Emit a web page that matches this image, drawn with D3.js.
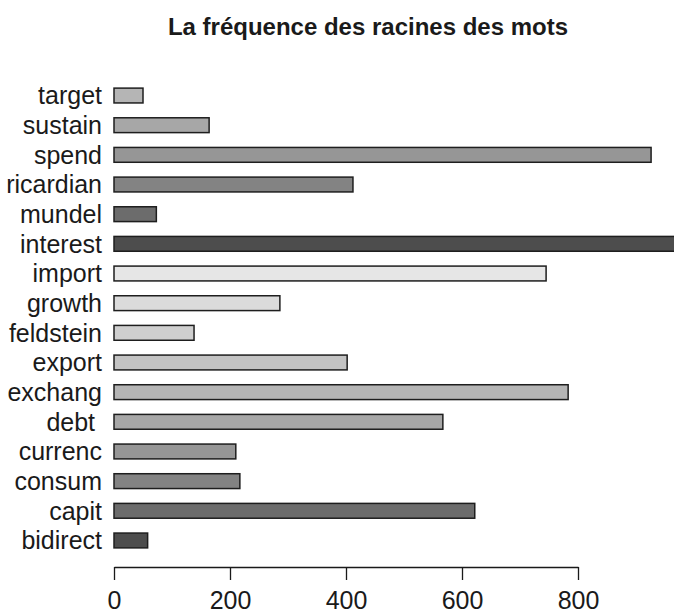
<!DOCTYPE html>
<html>
<head>
<meta charset="utf-8">
<script src="https://cdn.jsdelivr.net/npm/d3@7"></script>
<style>
  body { margin: 0; background: #fff; }
  svg { display: block; font-family: 'Liberation Sans', Arial, sans-serif; }
</style>
</head>
<body>
<div id="chart"></div>
<script>
// word stems, bottom to top (R barplot order)
const stems = ['bidirect', 'capit', 'consum', 'currenc', 'debt ', 'exchang', 'export', 'feldstein',
  'growth', 'import', 'interest', 'mundel', 'ricardian', 'spend', 'sustain', 'target'];
const counts = [58, 622, 217, 210, 567, 783, 402, 138, 286, 745, 1010, 73, 412, 926, 164, 50];
const xTicks = [0, 200, 400, 600, 800];
const titleText = 'La fréquence des racines des mots';

// gray.colors(10) cycle, like R
const grays = ['#4d4d4d', '#6c6c6c', '#838383', '#969696', '#a7a7a7',
  '#b5b5b5', '#c3c3c3', '#cfcfcf', '#dbdbdb', '#e6e6e6'];

const size = { width: 674, height: 614 };

const data = stems.map((s, i) => ({ stem: s, n: counts[i], fill: grays[i % grays.length] }));

const svg = d3.select('#chart').append('svg')
  .attr('width', size.width)
  .attr('height', size.height);

const x = d3.scaleLinear()
  .domain([0, 800])
  .range([114, 578]);

// top of chart is the last stem
const y = d3.scaleBand()
  .domain(stems.slice().reverse())
  .range([80.7, 555.3])
  .paddingInner(0.5)
  .paddingOuter(0.25);

svg.append('text')
  .attr('x', 368)
  .attr('y', 35)
  .attr('text-anchor', 'middle')
  .style('font-size', '24px')
  .style('font-weight', 'bold')
  .attr('fill', '#1a1a1a')
  .text(titleText);

svg.append('g')
  .selectAll('rect')
  .data(data)
  .join('rect')
  .attr('x', x(0))
  .attr('y', (d) => y(d.stem))
  .attr('width', (d) => x(d.n) - x(0))
  .attr('height', y.bandwidth())
  .attr('fill', (d) => d.fill)
  .attr('stroke', '#1e1e1e')
  .attr('stroke-width', 1.5);

svg.append('g')
  .selectAll('text')
  .data(data)
  .join('text')
  .attr('x', 102)
  .attr('y', (d) => y(d.stem) + y.bandwidth() / 2)
  .attr('dy', '0.35em')
  .attr('text-anchor', 'end')
  .style('font-size', '25px')
  .style('white-space', 'pre')
  .attr('fill', '#1a1a1a')
  .text((d) => d.stem);

const axis = svg.append('g')
  .attr('transform', 'translate(0, 567)')
  .call(d3.axisBottom(x).tickValues(xTicks).tickSize(13).tickPadding(11).tickSizeOuter(0));

axis.select('.domain').attr('stroke', '#1a1a1a').attr('stroke-width', 1.3);
axis.selectAll('.tick line').attr('stroke', '#1a1a1a').attr('stroke-width', 1.3);
axis.selectAll('.tick text')
  .style('font-size', '25px')
  .style('font-family', "'Liberation Sans', Arial, sans-serif")
  .attr('fill', '#1a1a1a');
</script>
</body>
</html>
